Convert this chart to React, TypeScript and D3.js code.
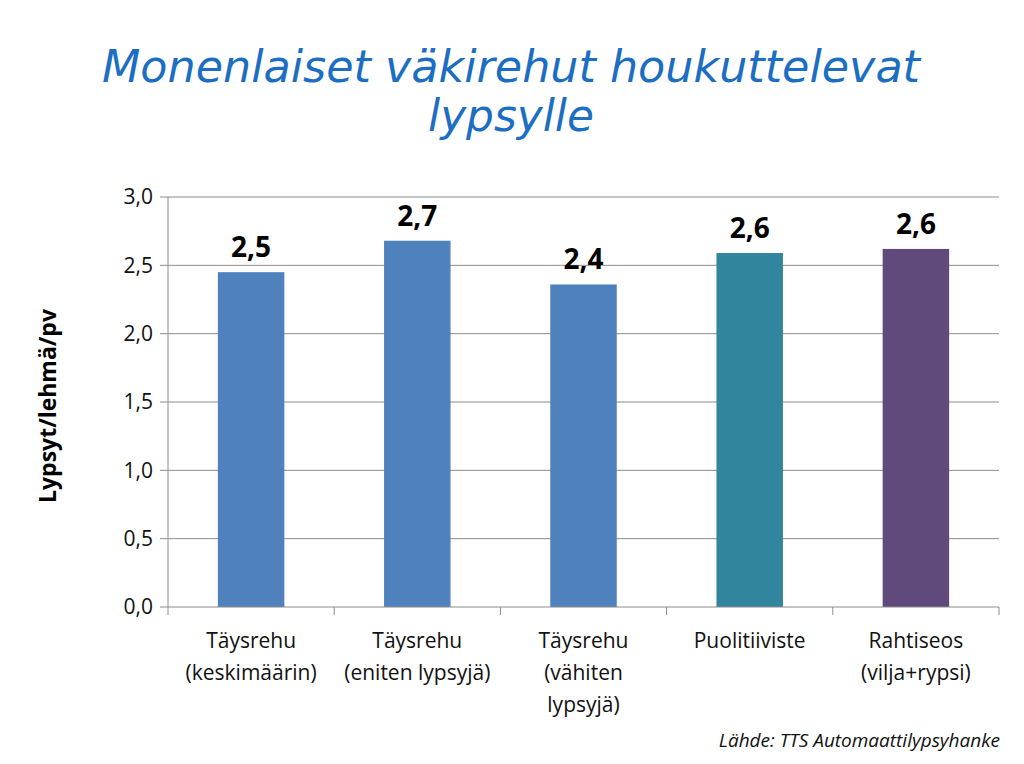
import React from 'react';
import * as d3 from 'd3';

const CATEGORIES = [
  ['Täysrehu', '(keskimäärin)'],
  ['Täysrehu', '(eniten lypsyjä)'],
  ['Täysrehu', '(vähiten', 'lypsyjä)'],
  ['Puolitiiviste'],
  ['Rahtiseos', '(vilja+rypsi)'],
];
const VALUES = [2.45, 2.68, 2.36, 2.59, 2.62];
const VALUE_LABELS = ['2,5', '2,7', '2,4', '2,6', '2,6'];
const BAR_COLORS = ['#4F81BD', '#4F81BD', '#4F81BD', '#31859C', '#604A7B'];
const Y_TICKS = [0, 0.5, 1, 1.5, 2, 2.5, 3];

const W = 1024;
const H = 764;
const margin = { top: 197, right: 25, bottom: 157, left: 168 };

const App = () => {
  const innerW = W - margin.left - margin.right;
  const innerH = H - margin.top - margin.bottom;

  const x = d3.scaleBand<number>()
    .domain(d3.range(VALUES.length))
    .range([0, innerW])
    .paddingInner(0.6)
    .paddingOuter(0.3);
  const band = innerW / VALUES.length;

  const y = d3.scaleLinear().domain([0, 3]).range([innerH, 0]);
  const fmt = (v: number) => v.toFixed(1).replace('.', ',');
  const font = "'Open Sans', 'DejaVu Sans', sans-serif";
  const titleFont = "'DejaVu Sans Condensed', 'DejaVu Sans', sans-serif";

  return (
    <svg width={W} height={H} style={{ display: 'block', position: 'absolute', left: 0, top: 0, background: '#fff' }}>
      <g fontFamily={titleFont} fontStyle="italic" fill="#1B6EC2" textAnchor="middle" fontSize={44}>
        <text x={511} y={82} textLength={818} lengthAdjust="spacingAndGlyphs">Monenlaiset väkirehut houkuttelevat</text>
        <text x={511} y={131} textLength={166} lengthAdjust="spacingAndGlyphs">lypsylle</text>
      </g>

      <g transform={`translate(${margin.left},${margin.top})`}>
        {Y_TICKS.map(t => (
          <g key={t} transform={`translate(0,${y(t)})`}>
            {t > 0 && <line x1={0} x2={innerW} stroke="#8C8C8C" strokeWidth={1} />}
            <line x1={-8} x2={0} stroke="#8C8C8C" />
            <text x={-15} dy="0.35em" textAnchor="end" fontFamily={font} fontSize={21} fill="#111">{fmt(t)}</text>
          </g>
        ))}

        {VALUES.map((v, i) => (
          <g key={i}>
            <rect x={x(i)} y={y(v)} width={x.bandwidth()} height={innerH - y(v)} fill={BAR_COLORS[i]} />
            <text x={(x(i) as number) + x.bandwidth() / 2} y={y(v) - 15} textAnchor="middle"
              fontFamily={font} fontWeight="bold" fontSize={28} fill="#000">{VALUE_LABELS[i]}</text>
            {CATEGORIES[i].map((line, j) => (
              <text key={j} x={(x(i) as number) + x.bandwidth() / 2} y={innerH + 41 + j * 32} textAnchor="middle"
                fontFamily={font} fontSize={21} fill="#111">{line}</text>
            ))}
          </g>
        ))}

        <line x1={0} x2={0} y1={0} y2={innerH} stroke="#8C8C8C" />
        <line x1={0} x2={innerW} y1={innerH} y2={innerH} stroke="#8C8C8C" />
        {d3.range(VALUES.length + 1).map(k => (
          <line key={k} x1={k * band} x2={k * band} y1={innerH} y2={innerH + 8} stroke="#8C8C8C" />
        ))}
      </g>

      <text transform={`translate(56,406) rotate(-90)`} textAnchor="middle" fontFamily={font}
        fontWeight="bold" fontSize={23} fill="#000">Lypsyt/lehmä/pv</text>

      <text x={1000} y={747} textAnchor="end" fontFamily={font} fontStyle="italic" fontSize={19} fill="#111">Lähde: TTS Automaattilypsyhanke</text>
    </svg>
  );
};

export default App;
